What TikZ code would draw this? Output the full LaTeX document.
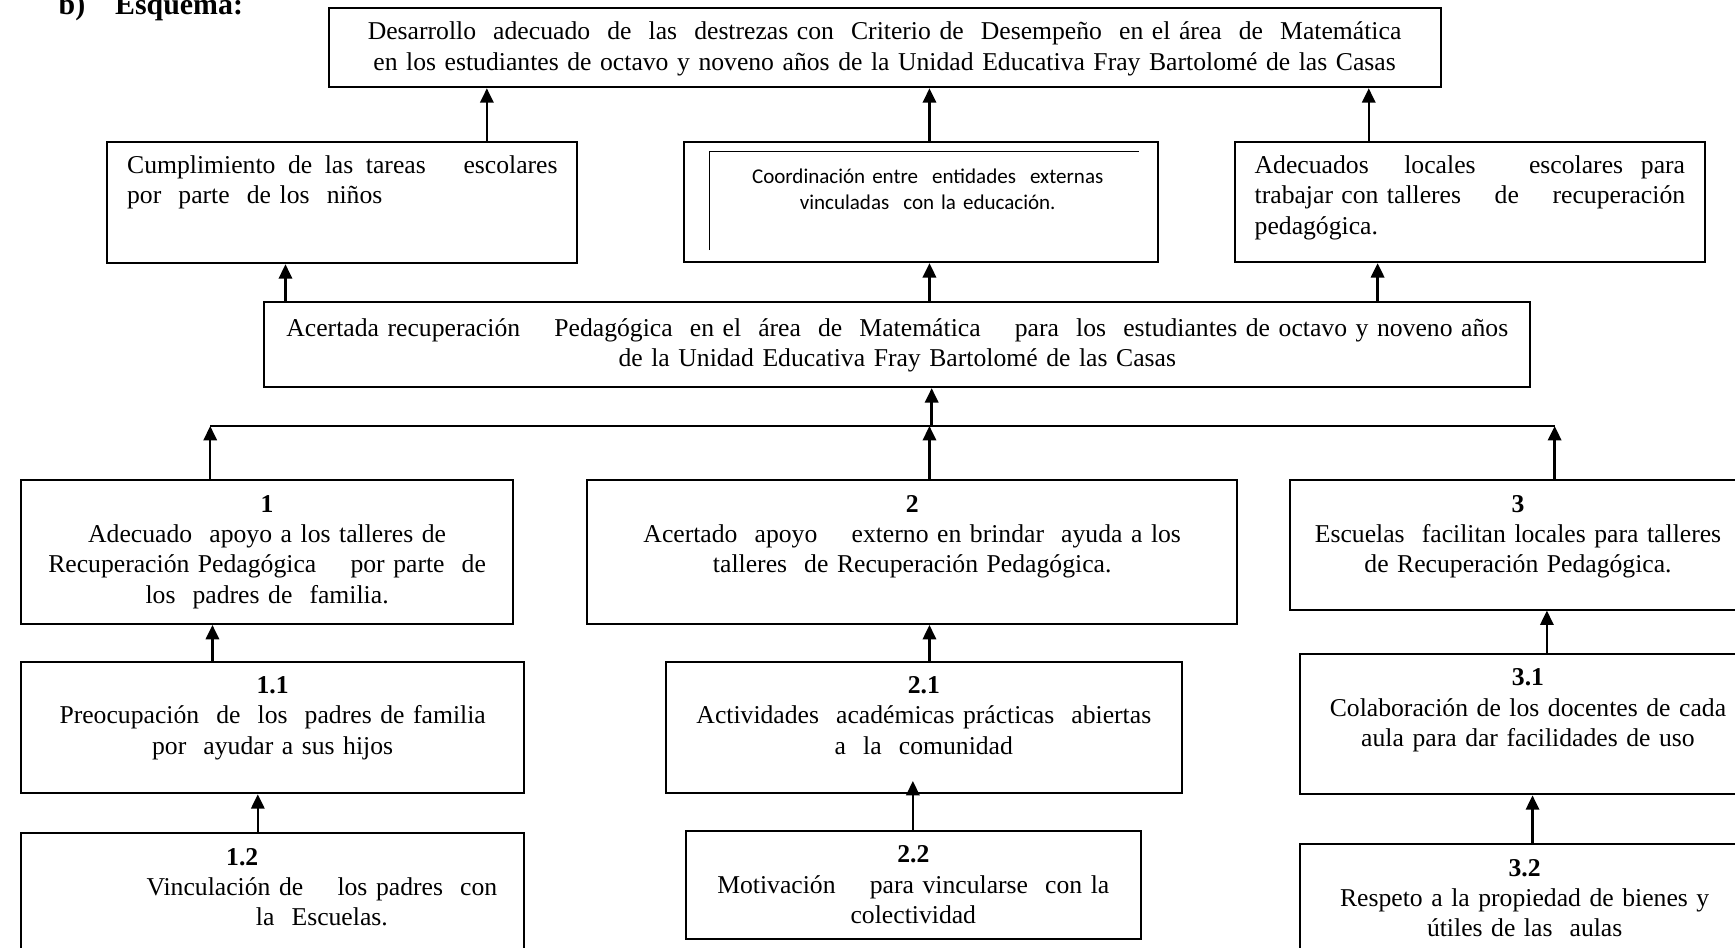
\documentclass[tikz,border=0pt]{standalone}
\usepackage{fontspec}
\setmainfont{Liberation Serif}
\newfontfamily\calibri{Carlito}
\usetikzlibrary{arrows.meta, positioning}

\begin{document}
\begin{tikzpicture}[x=1pt, y=-1pt,
    every node/.style={font=\fontsize{11.6}{13.7}\selectfont},
    caja/.style={draw, line width=0.9pt, anchor=north west, align=center, inner xsep=3pt, inner ysep=0pt, text height=14.5pt},
    flecha/.style={-{Triangle[length=6.5pt, width=6pt]}, line width=1.1pt}]
    \useasboundingbox (0,0) rectangle (784,428);

    \node[anchor=base west, font=\fontsize{13.5}{15}\selectfont\bfseries] (titulo) at (23,6.5) {b)\quad Esquema:};

    \node[caja, text width=496.5pt, text depth=21.5pt] (fin) at (148,3) {Desarrollo~ adecuado~ de~ las~ destrezas con~ Criterio de~ Desempeño~ en el área~ de~ Matemática\\ en los estudiantes de octavo y noveno años de la Unidad Educativa Fray Bartolomé de las Casas};

    \node[caja, align=left, inner xsep=9pt, text width=194.5pt, text depth=40.5pt] (cumplimiento) at (48,63.5) {\makebox[194.5pt][s]{Cumplimiento\hfill de\hfill las\hfill tareas\hfill\hfill\hfill escolares}\\ por~ parte~ de los~ niños};
    \node[caja, text width=208.5pt, text height=19pt, text depth=35.5pt, font=\calibri\fontsize{9.5}{11.5}\selectfont] (coordinacion) at (308.5,63.5) {\hspace*{6pt}Coordinación entre~ entidades~ externas\\ \hspace*{6pt}vinculadas~ con la educación.};
    \node[caja, align=left, inner xsep=9pt, text width=194.5pt, text depth=40pt] (locales) at (557.5,63.5) {\makebox[194.5pt][s]{Adecuados\hfill\hfill locales\hfill\hfill\hfill escolares\hfill para}\\ \makebox[194.5pt][s]{trabajar\hfill con\hfill talleres\hfill\hfill\hfill\hfill de\hfill\hfill\hfill\hfill recuperación}\\ pedagógica.};

    \node[caja, text width=566pt, text height=15.5pt, text depth=23pt] (recuperacion) at (119,136) {Acertada recuperación~ ~ Pedagógica~ en el~ área~ de~ Matemática~ ~ para~ los~ estudiantes de octavo y noveno años\\ de la Unidad Educativa Fray Bartolomé de las Casas};

    \node[caja, text width=216.5pt, text depth=50.5pt] (padres) at (9,216.5) {\textbf{1}\\ Adecuado~ apoyo a los talleres de\\ Recuperación Pedagógica~ ~ por parte~ de\\ los~ padres de~ familia.};
    \node[caja, text width=287.5pt, text depth=50.5pt] (externo) at (265,216.5) {\textbf{2}\\ Acertado~ apoyo~ ~ externo en brindar~ ayuda a los\\ talleres~ de Recuperación Pedagógica.};
    \node[caja, text width=200pt, text depth=44pt] (escuelas) at (582.5,216.5) {\textbf{3}\\ Escuelas~ facilitan locales para talleres\\ de Recuperación Pedagógica.};

    \node[caja, text width=221.5pt, text depth=45pt] (preocupacion) at (9,298.5) {\textbf{1.1}\\ Preocupación~ de~ los~ padres de familia\\ por~ ayudar a sus hijos};
    \node[caja, text width=227pt, text depth=45pt] (actividades) at (300.5,298.5) {\textbf{2.1}\\ Actividades~ académicas prácticas~ abiertas\\ a~ la~ comunidad};
    \node[caja, text width=200pt, text depth=49pt] (colaboracion) at (587,295) {\textbf{3.1}\\ Colaboración de los docentes de cada\\ aula para dar facilidades de uso};

    \node[caja, text width=221.5pt, text depth=45.5pt] (vinculacion) at (9,376) {\mbox{\textbf{1.2}\hspace{27.5pt}}\\ \mbox{\hspace{44.5pt}Vinculación de~ ~ los padres~ con}\\ \mbox{\hspace{44.5pt}la~ Escuelas.}};
    \node[caja, text width=199.5pt, text depth=34.5pt] (motivacion) at (309.5,375) {\textbf{2.2}\\ Motivación~ ~ para vincularse~ con la\\ colectividad};
    \node[caja, text width=197pt, text depth=45.5pt] (respeto) at (587,381) {\textbf{3.2}\\ Respeto a la propiedad de bienes y\\ útiles de las~ aulas};

    \coordinate (eje) at (420,0);
    \coordinate (eje2) at (421,0);
    \coordinate (fin1) at (220,0);
    \coordinate (fin3) at (618.5,0);
    \coordinate (efe1) at (129,0);
    \coordinate (efe3) at (622.5,0);
    \coordinate (busL) at (95,192.5);
    \coordinate (busR) at (702.5,192.5);
    \coordinate (col1) at (96,0);
    \coordinate (col3) at (699,0);
    \coordinate (sub1) at (116.5,0);
    \coordinate (sub2) at (412.5,0);
    \coordinate (sub3) at (692.5,0);

    \draw[flecha] (cumplimiento.north -| fin1) -- (fin.south -| fin1);
    \draw[flecha] (coordinacion.north -| eje) -- (fin.south -| eje);
    \draw[flecha] (locales.north -| fin3) -- (fin.south -| fin3);

    \draw[flecha] (recuperacion.north -| efe1) -- (cumplimiento.south -| efe1);
    \draw[flecha] (recuperacion.north -| eje) -- (coordinacion.south -| eje);
    \draw[flecha] (recuperacion.north -| efe3) -- (locales.south -| efe3);

    \draw[line width=1.1pt] (busL) -- (busR);
    \draw[flecha] (busL -| eje2) -- (recuperacion.south -| eje2);
    \draw[flecha] (padres.north -| busL) -- (busL);
    \draw[flecha] (externo.north -| eje) -- (busL -| eje);
    \draw[flecha] (escuelas.north -| busR) -- (busR);

    \draw[flecha] (preocupacion.north -| col1) -- (padres.south -| col1);
    \draw[flecha] (actividades.north -| eje) -- (externo.south -| eje);
    \draw[flecha] (colaboracion.north -| col3) -- (escuelas.south -| col3);

    \draw[flecha] (vinculacion.north -| sub1) -- (preocupacion.south -| sub1);
    \draw[flecha, shorten >=-6pt] (motivacion.north -| sub2) -- (actividades.south -| sub2);
    \draw[flecha] (respeto.north -| sub3) -- (colaboracion.south -| sub3);

    \draw[line width=0.6pt] ([shift={(12,49.5)}]coordinacion.north west) |- ([shift={(-9,5)}]coordinacion.north east);
\end{tikzpicture}
\end{document}
